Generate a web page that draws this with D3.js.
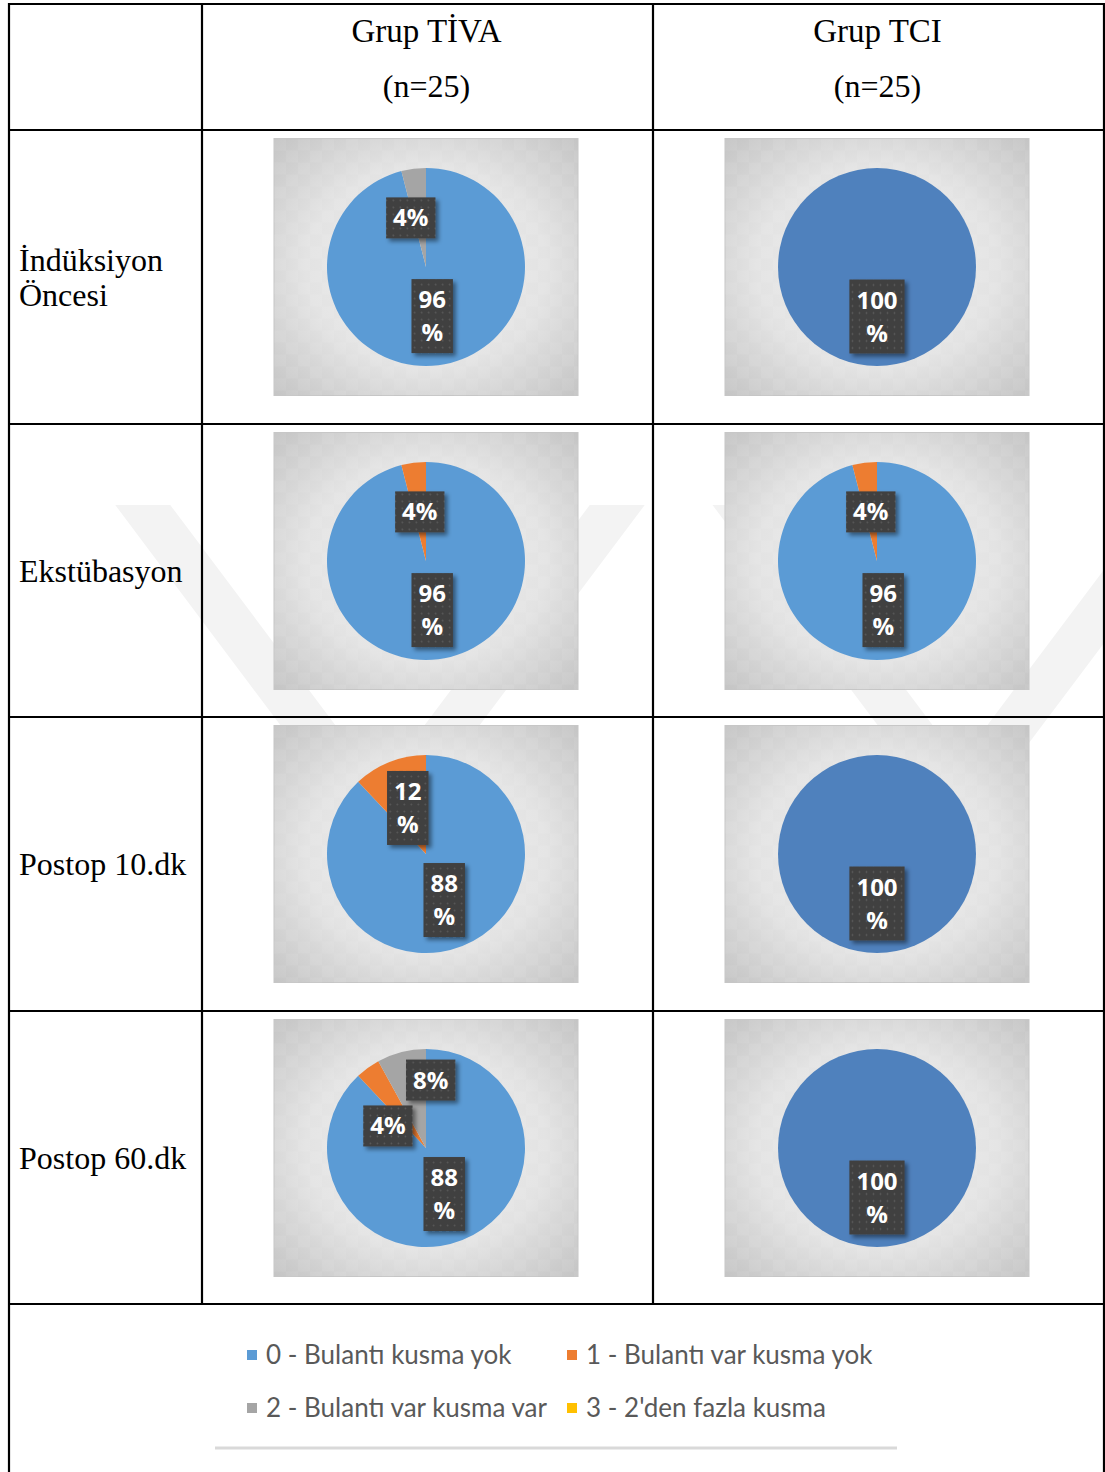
<!DOCTYPE html>
<html>
<head>
<meta charset="utf-8">
<script src="https://cdn.jsdelivr.net/npm/d3@7/dist/d3.min.js"></script>
<style>
  body { margin: 0; background: #fff; }
  svg { display: block; }
</style>
</head>
<body>
<svg id="chart"></svg>
<script>
// data
var categories = ["0 - Bulantı kusma yok", "1 - Bulantı var kusma yok", "2 - Bulantı var kusma var", "3 - 2'den fazla kusma"];
var catColors = ["#5b9bd5", "#ed7d31", "#a5a5a5", "#ffc000"];
var groups = ["Grup TİVA", "Grup TCI"];
var groupN = ["(n=25)", "(n=25)"];
var times = [["İndüksiyon", "Öncesi"], ["Ekstübasyon"], ["Postop 10.dk"], ["Postop 60.dk"]];
var tivaValues = [[96, 0, 4, 0], [96, 4, 0, 0], [88, 12, 0, 0], [88, 4, 8, 0]];
var tciValues = [[100, 0, 0, 0], [96, 4, 0, 0], [100, 0, 0, 0], [100, 0, 0, 0]];
var allValues = [tivaValues, tciValues];

// layout
var W = 1105, H = 1472;
var colX = [9, 202, 653, 1104];
var rowY = [4, 130, 424, 717, 1011, 1304];
var boxW = 304, boxH = 257, R = 99;
var fullColor = "#4f81bd";   // single 100% slice is drawn darker in the original
// small nudges where Excel moved labels apart ("group-row-category")
var labelNudge = { "0-0-2": [-9, 0], "0-3-1": [-9, 18], "0-3-2": [17, -20] };

var svg = d3.select("#chart").attr("width", W).attr("height", H);
var defs = svg.append("defs");

var grad = defs.append("radialGradient").attr("id", "bgGrad")
    .attr("cx", "50%").attr("cy", "50%").attr("r", "72%");
grad.append("stop").attr("offset", "0%").attr("stop-color", "#ededed");
grad.append("stop").attr("offset", "55%").attr("stop-color", "#e3e3e3");
grad.append("stop").attr("offset", "100%").attr("stop-color", "#c3c3c3");

var tile = defs.append("pattern").attr("id", "tiles")
    .attr("width", 24).attr("height", 24).attr("patternUnits", "userSpaceOnUse");
tile.append("rect").attr("width", 12).attr("height", 12).attr("fill", "#fff").attr("opacity", 0.06);
tile.append("rect").attr("x", 12).attr("y", 12).attr("width", 12).attr("height", 12).attr("fill", "#fff").attr("opacity", 0.06);

var dots = defs.append("pattern").attr("id", "dots")
    .attr("width", 7).attr("height", 7).attr("patternUnits", "userSpaceOnUse");
dots.append("rect").attr("width", 7).attr("height", 7).attr("fill", "#3f3f3f");
dots.append("circle").attr("cx", 3.5).attr("cy", 3.5).attr("r", 0.9).attr("fill", "#5c5c5c");

var shadow = defs.append("filter").attr("id", "shadow")
    .attr("x", "-30%").attr("y", "-30%").attr("width", "170%").attr("height", "170%");
shadow.append("feDropShadow").attr("dx", 3).attr("dy", 3).attr("stdDeviation", 2)
    .attr("flood-color", "#000").attr("flood-opacity", 0.45);

// faint watermark behind the table
var wm = svg.append("g").attr("fill", "#f3f3f3");
function vShape(vx, topY, h, band) {
    var s = 0.75;
    var pts = [[vx - s * h, topY], [vx - s * h + band, topY], [vx, topY + h - band / s],
               [vx + s * h - band, topY], [vx + s * h, topY], [vx, topY + h]];
    wm.append("polygon").attr("points", pts.map(function(p) { return p.join(","); }).join(" "));
}
vShape(380, 505, 353, 55);
vShape(960, 505, 330, 55);

// table grid
var grid = svg.append("g").attr("stroke", "#000").attr("stroke-width", 2.2);
colX.forEach(function(x, i) {
    var y2 = (i === 0 || i === colX.length - 1) ? H : rowY[rowY.length - 1];
    grid.append("line").attr("x1", x).attr("x2", x).attr("y1", rowY[0] - 1).attr("y2", y2);
});
rowY.forEach(function(y) {
    grid.append("line").attr("x1", colX[0]).attr("x2", colX[3]).attr("y1", y).attr("y2", y);
});

// header
var serif = "'Liberation Serif', 'Times New Roman', serif";
groups.forEach(function(g, i) {
    var cx = (colX[i + 1] + colX[i + 2]) / 2 - 1;
    svg.append("text").attr("x", cx).attr("y", 42).attr("text-anchor", "middle")
        .style("font-family", serif).style("font-size", "33px").text(g);
    svg.append("text").attr("x", cx).attr("y", 97).attr("text-anchor", "middle")
        .style("font-family", serif).style("font-size", "32px").text(groupN[i]);
});

// row labels
times.forEach(function(lines, r) {
    var cy = (rowY[r + 1] + rowY[r + 2]) / 2;
    var lh = 35;
    var t = svg.append("text").style("font-family", serif).style("font-size", "32px");
    lines.forEach(function(l, k) {
        t.append("tspan").attr("x", 19)
            .attr("y", cy + 11 + (k - (lines.length - 1) / 2) * lh).text(l);
    });
});

// pies
var pie = d3.pie().sort(null).value(function(d) { return d.v; });
var arc = d3.arc().innerRadius(0).outerRadius(R);
var labelArc = d3.arc().innerRadius(R * 0.5).outerRadius(R * 0.5);
var labelFont = "'Open Sans', 'Noto Sans', sans-serif";

allValues.forEach(function(series, gi) {
    series.forEach(function(vals, r) {
        var cellCx = (colX[gi + 1] + colX[gi + 2]) / 2 - 1.5;
        var bx = cellCx - boxW / 2, by = rowY[r + 1] + 8.5;
        var g = svg.append("g").attr("transform", "translate(" + bx + "," + by + ")");
        g.append("rect").attr("width", boxW).attr("height", boxH)
            .attr("fill", "url(#bgGrad)").attr("stroke", "#c6c6c6").attr("stroke-width", 1);
        g.append("rect").attr("width", boxW).attr("height", boxH).attr("fill", "url(#tiles)");

        var data = vals.map(function(v, k) { return { v: v, k: k }; });
        var arcs = pie(data);
        var nonZero = vals.filter(function(v) { return v > 0; }).length;
        var pg = g.append("g").attr("transform", "translate(" + boxW / 2 + "," + boxH / 2 + ")");
        pg.selectAll("path").data(arcs.filter(function(a) { return a.data.v > 0; }))
            .enter().append("path")
            .attr("d", arc)
            .attr("fill", function(a) { return nonZero === 1 ? fullColor : catColors[a.data.k]; });

        arcs.filter(function(a) { return a.data.v > 0; }).forEach(function(a) {
            var c = labelArc.centroid(a);
            var nudge = labelNudge[gi + "-" + r + "-" + a.data.k] || [0, 0];
            var lx = c[0] + nudge[0], ly = c[1] + nudge[1];
            var lines = a.data.v >= 10 ? [String(a.data.v), "%"] : [a.data.v + "%"];
            var lg = pg.append("g").attr("transform", "translate(" + lx + "," + ly + ")");
            var bg = lg.append("rect").attr("fill", "url(#dots)").attr("filter", "url(#shadow)");
            var t = lg.append("text").attr("text-anchor", "middle").attr("fill", "#fff")
                .style("font-family", labelFont).style("font-weight", "bold").style("font-size", "24px");
            lines.forEach(function(l, k) {
                t.append("tspan").attr("x", 0)
                    .attr("y", (k - (lines.length - 1) / 2) * 33 + 8.5).text(l);
            });
            var tw = t.node().getBBox().width;
            var bw = tw + 14, bh = lines.length > 1 ? 74 : 41;
            bg.attr("x", -bw / 2).attr("y", -bh / 2).attr("width", bw).attr("height", bh);
        });
    });
});

// legend
var legFont = "Lato, 'Noto Sans', sans-serif";
var legX = [247, 567], legY = [1355, 1408];
categories.forEach(function(c, i) {
    var x = legX[i % 2], y = legY[Math.floor(i / 2)];
    svg.append("rect").attr("x", x).attr("y", y - 5).attr("width", 10).attr("height", 10)
        .attr("fill", catColors[i]);
    svg.append("text").attr("x", x + 19).attr("y", y).attr("dy", "0.35em")
        .style("font-family", legFont).style("font-size", "26px").attr("fill", "#595959").text(c);
});
svg.append("line").attr("x1", 215).attr("x2", 897).attr("y1", 1448).attr("y2", 1448)
    .attr("stroke", "#d9d9d9").attr("stroke-width", 3);
</script>
</body>
</html>
